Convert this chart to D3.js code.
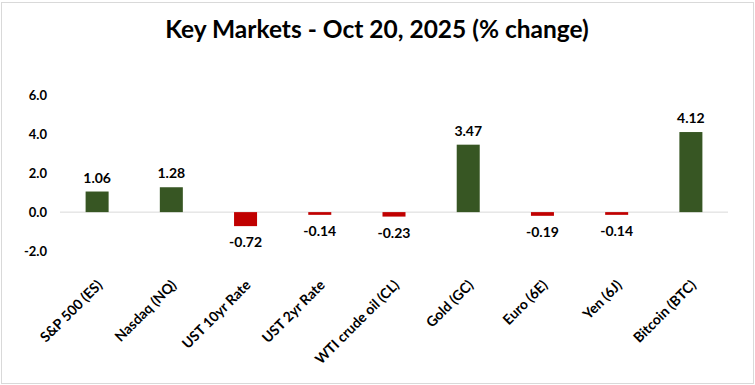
<!DOCTYPE html>
<html>
<head>
<meta charset="utf-8">
<script src="https://cdn.jsdelivr.net/npm/d3@7"></script>
<style>
  body { margin: 0; background: #fff; }
  text { font-family: Lato, "Open Sans", sans-serif; }
</style>
</head>
<body>
<svg id="chart" width="755" height="385"></svg>
<script>
const categories = ['S&P 500 (ES)', 'Nasdaq (NQ)', 'UST 10yr Rate', 'UST 2yr Rate',
  'WTI crude oil (CL)', 'Gold (GC)', 'Euro (6E)', 'Yen (6J)', 'Bitcoin (BTC)'];
const changes = [1.06, 1.28, -0.72, -0.14, -0.23, 3.47, -0.19, -0.14, 4.12];
const yTicks = [-2, 0, 2, 4, 6];
const title = 'Key Markets - Oct 20, 2025 (% change)';

const width = 755, height = 385;
const data = categories.map((c, i) => ({name: c, value: changes[i]}));

const svg = d3.select('#chart');

// outer frame
svg.append('rect')
  .attr('x', 1.5).attr('y', 2.5)
  .attr('width', width - 3).attr('height', height - 4)
  .attr('fill', '#fff')
  .attr('stroke', '#d9d9d9');

svg.append('text')
  .attr('x', 377)
  .attr('y', 38)
  .attr('text-anchor', 'middle')
  .attr('font-size', 24.5)
  .attr('font-weight', 'bold')
  .attr('fill', '#000')
  .text(title);

const xScale = d3.scaleBand()
  .domain(categories)
  .range([60, 728])
  .paddingInner(0.69)
  .paddingOuter(0.345);

const yScale = d3.scaleLinear()
  .domain([-2, 6])
  .range([251, 95.5]);

// y axis labels only
const yAxis = d3.axisLeft(yScale)
  .tickValues(yTicks)
  .tickSize(0)
  .tickPadding(0)
  .tickFormat(d => d.toFixed(1));

const yAxisG = svg.append('g')
  .attr('transform', 'translate(47,0)')
  .call(yAxis);
yAxisG.select('.domain').remove();
yAxisG.selectAll('text')
  .attr('font-family', 'Lato, sans-serif')
  .attr('font-size', 13)
  .attr('font-weight', 'bold')
  .attr('fill', '#000');

// zero line
svg.append('line')
  .attr('x1', 60).attr('x2', 728)
  .attr('y1', yScale(0)).attr('y2', yScale(0))
  .attr('stroke', '#d9d9d9')
  .attr('stroke-width', 1);

svg.append('g').selectAll('rect')
  .data(data)
  .join('rect')
  .attr('x', d => xScale(d.name))
  .attr('width', xScale.bandwidth())
  .attr('y', d => yScale(Math.max(0, d.value)))
  .attr('height', d => Math.abs(yScale(d.value) - yScale(0)))
  .attr('fill', d => d.value >= 0 ? '#375623' : '#c00000');

// value labels
svg.append('g').selectAll('text')
  .data(data)
  .join('text')
  .attr('x', d => xScale(d.name) + xScale.bandwidth() / 2)
  .attr('y', d => d.value >= 0 ? yScale(d.value) - 9 : yScale(d.value) + 21)
  .attr('text-anchor', 'middle')
  .attr('font-size', 14)
  .attr('font-weight', 'bold')
  .attr('fill', '#000')
  .text(d => d.value.toFixed(2));

// category labels, rotated
svg.append('g').selectAll('text')
  .data(data)
  .join('text')
  .attr('transform', d => `translate(${xScale(d.name) + xScale.bandwidth() / 2 + 6},${286}) rotate(-45)`)
  .attr('text-anchor', 'end')
  .attr('font-size', 14)
  .attr('font-weight', 'bold')
  .attr('fill', '#000')
  .text(d => d.name);
</script>
</body>
</html>
